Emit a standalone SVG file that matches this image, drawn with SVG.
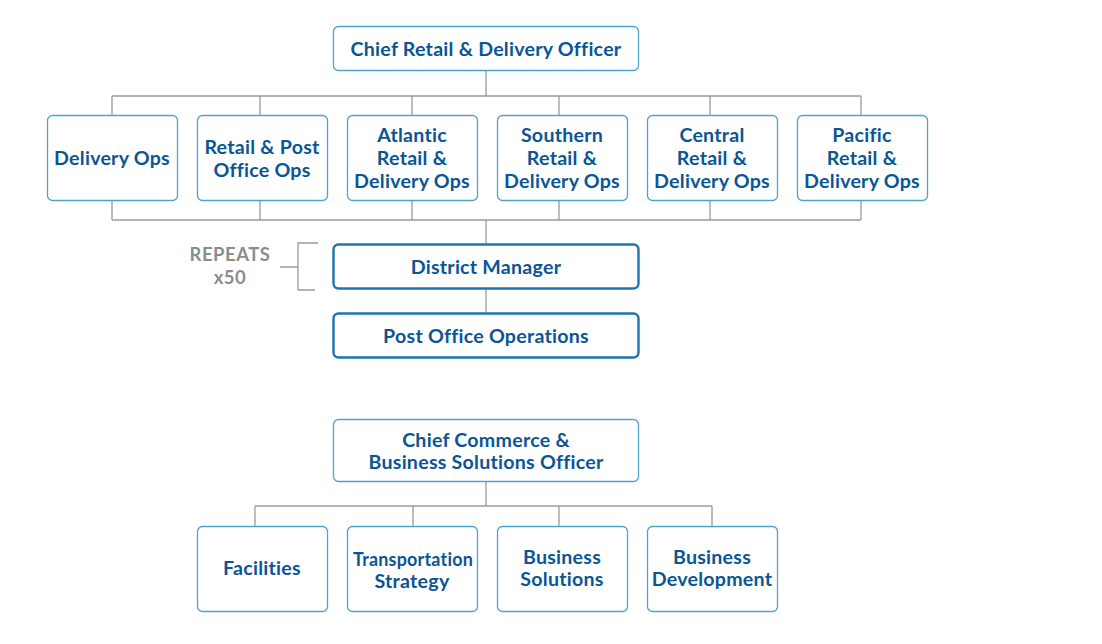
<svg xmlns="http://www.w3.org/2000/svg" width="1102" height="644" viewBox="0 0 1102 644">
<style>
.box{fill:#fff;stroke:#4ea3cf;stroke-width:1.3}
.box2{fill:#fff;stroke:#1b75b1;stroke-width:2.4}
.t{font-family:Lato,"Liberation Sans",sans-serif;font-weight:700;font-size:19.6px;letter-spacing:0.25px;fill:#0a5595;text-anchor:middle}
.c{fill:none;stroke:#9a9a9a;stroke-width:1.3}
.g{font-family:Lato,"Liberation Sans",sans-serif;font-weight:700;font-size:18.5px;letter-spacing:0.5px;fill:#8c8c8c;text-anchor:middle}
</style>
<rect width="1102" height="644" fill="#fff"/>
<g id="connectors">
<path class="c" d="M486 71V96M112 96H861M112 96V115M260 96V115M412 96V115M559 96V115M710 96V115M861 96V115"/>
<path class="c" d="M112 201V220M260 201V220M412 201V220M559 201V220M710 201V220M861 201V220M112 220H861M486 220V244"/>
<path class="c" d="M486 289V313"/>
<path class="c" d="M486 482V506M255 506H712M255 506V526M413 506V526M559 506V526M712 506V526"/>
<path class="c" d="M318 243H298V290H315M280 267H298"/>
</g>
<g id="repeats"><text class="g" x="230" y="261">REPEATS</text><text class="g" x="230" y="284">x50</text></g>
<g id="n-crdo"><rect class="box" x="333.5" y="26.5" width="305" height="44" rx="5"/><text class="t" x="486" y="56">Chief Retail &amp; Delivery Officer</text></g>
<g id="n-delivery"><rect class="box" x="47.5" y="115.5" width="130" height="85" rx="5"/><text class="t" x="112" y="165">Delivery Ops</text></g>
<g id="n-retailpost"><rect class="box" x="197.5" y="115.5" width="130" height="85" rx="5"/><text class="t" x="262" y="154">Retail &amp; Post</text><text class="t" x="262" y="177">Office Ops</text></g>
<g id="n-atlantic"><rect class="box" x="347.5" y="115.5" width="130" height="85" rx="5"/><text class="t" x="412" y="142">Atlantic</text><text class="t" x="412" y="165">Retail &amp;</text><text class="t" x="412" y="188">Delivery Ops</text></g>
<g id="n-southern"><rect class="box" x="497.5" y="115.5" width="130" height="85" rx="5"/><text class="t" x="562" y="142">Southern</text><text class="t" x="562" y="165">Retail &amp;</text><text class="t" x="562" y="188">Delivery Ops</text></g>
<g id="n-central"><rect class="box" x="647.5" y="115.5" width="130" height="85" rx="5"/><text class="t" x="712" y="142">Central</text><text class="t" x="712" y="165">Retail &amp;</text><text class="t" x="712" y="188">Delivery Ops</text></g>
<g id="n-pacific"><rect class="box" x="797.5" y="115.5" width="130" height="85" rx="5"/><text class="t" x="862" y="142">Pacific</text><text class="t" x="862" y="165">Retail &amp;</text><text class="t" x="862" y="188">Delivery Ops</text></g>
<g id="n-district"><rect class="box2" x="333.5" y="244.5" width="305" height="44" rx="5"/><text class="t" x="486" y="274">District Manager</text></g>
<g id="n-postoffice"><rect class="box2" x="333.5" y="313.5" width="305" height="44" rx="5"/><text class="t" x="486" y="343">Post Office Operations</text></g>
<g id="n-ccbso"><rect class="box" x="333.5" y="419.5" width="305" height="62" rx="5"/><text class="t" x="486" y="447">Chief Commerce &amp;</text><text class="t" x="486" y="469">Business Solutions Officer</text></g>
<g id="n-facilities"><rect class="box" x="197.5" y="526.5" width="130" height="85" rx="5"/><text class="t" x="262" y="575">Facilities</text></g>
<g id="n-transport"><rect class="box" x="347.5" y="526.5" width="130" height="85" rx="5"/><text class="t" x="413" y="566" textLength="120" lengthAdjust="spacingAndGlyphs">Transportation</text><text class="t" x="412" y="588">Strategy</text></g>
<g id="n-bizsol"><rect class="box" x="497.5" y="526.5" width="130" height="85" rx="5"/><text class="t" x="562" y="564">Business</text><text class="t" x="562" y="586">Solutions</text></g>
<g id="n-bizdev"><rect class="box" x="647.5" y="526.5" width="130" height="85" rx="5"/><text class="t" x="712" y="564">Business</text><text class="t" x="712" y="586">Development</text></g>
</svg>
